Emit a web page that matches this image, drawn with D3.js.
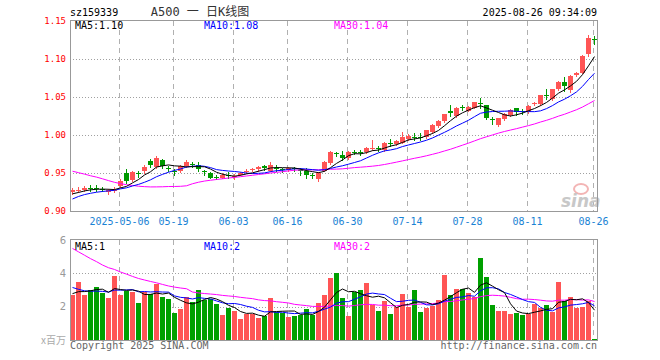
<!DOCTYPE html>
<html><head><meta charset="utf-8">
<script src="https://cdn.jsdelivr.net/npm/d3@7"></script>
<style>body{margin:0;background:#fff}svg{display:block}</style>
</head><body>
<svg id="c" width="660" height="360"></svg>
<script>
// ---------- data ----------
const symbol = "sz159339";
const title = "A500 一 日K线图";
const stamp = "2025-08-26 09:34:09";
const dates = [
"04-21","04-22","04-23","04-24","04-25","04-28","04-29","04-30",
"05-06","05-07","05-08","05-09","05-12","05-13","05-14","05-15","05-16","05-19","05-20","05-21","05-22","05-23","05-26","05-27","05-28","05-29","05-30",
"06-03","06-04","06-05","06-06","06-09","06-10","06-11","06-12","06-13","06-16","06-17","06-18","06-19","06-20","06-23","06-24","06-25","06-26","06-27","06-30",
"07-01","07-02","07-03","07-04","07-07","07-08","07-09","07-10","07-11","07-14","07-15","07-16","07-17","07-18","07-21","07-22","07-23","07-24","07-25","07-28","07-29","07-30","07-31",
"08-01","08-04","08-05","08-06","08-07","08-08","08-11","08-12","08-13","08-14","08-15","08-18","08-19","08-20","08-21","08-22","08-25","08-26"];
const open = [0.925,0.927,0.928,0.930,0.930,0.929,0.925,0.927,0.933,0.950,0.941,0.950,0.952,0.966,0.958,0.967,0.956,0.953,0.952,0.959,
0.962,0.961,0.952,0.950,0.945,0.944,0.948,0.945,0.948,0.952,0.954,0.955,0.959,0.953,0.957,0.955,0.954,0.956,0.954,0.953,
0.948,0.942,0.953,0.963,0.976,0.974,0.970,0.978,0.977,0.977,0.982,0.983,0.980,0.990,0.988,0.990,0.995,0.998,0.997,0.997,
1.004,1.012,1.018,1.031,1.025,1.037,1.032,1.036,1.042,1.039,1.021,1.013,1.021,1.026,1.035,1.032,1.030,1.041,1.041,1.052,
1.047,1.060,1.070,1.059,1.079,1.082,1.107,1.126];
const high = [0.930,0.931,0.933,0.934,0.934,0.932,0.929,0.931,0.942,0.955,0.953,0.953,0.960,0.969,0.973,0.969,0.959,0.955,0.961,0.967,
0.965,0.965,0.954,0.951,0.947,0.950,0.951,0.949,0.951,0.955,0.957,0.959,0.961,0.965,0.960,0.957,0.958,0.958,0.956,0.956,
0.950,0.951,0.966,0.979,0.978,0.979,0.979,0.980,0.980,0.984,0.993,0.985,0.991,0.995,0.993,1.004,1.001,1.003,1.002,1.007,
1.014,1.020,1.028,1.039,1.037,1.039,1.038,1.044,1.049,1.040,1.024,1.023,1.029,1.034,1.036,1.034,1.039,1.044,1.053,1.060,
1.061,1.071,1.076,1.079,1.083,1.105,1.131,1.130];
const low = [0.923,0.925,0.926,0.926,0.926,0.926,0.923,0.925,0.931,0.937,0.939,0.945,0.950,0.958,0.956,0.957,0.952,0.948,0.951,0.958,
0.958,0.953,0.947,0.943,0.942,0.943,0.944,0.942,0.947,0.950,0.952,0.953,0.954,0.952,0.953,0.951,0.952,0.953,0.948,0.943,
0.944,0.940,0.952,0.962,0.972,0.967,0.969,0.975,0.974,0.976,0.980,0.979,0.979,0.986,0.987,0.989,0.994,0.993,0.994,0.996,
1.003,1.011,1.017,1.025,1.024,1.033,1.031,1.035,1.036,1.021,1.014,1.012,1.020,1.025,1.026,1.027,1.029,1.039,1.040,1.047,
1.046,1.059,1.058,1.057,1.078,1.081,1.104,1.120];
const close = [0.927,0.928,0.930,0.929,0.929,0.928,0.927,0.928,0.940,0.939,0.951,0.949,0.958,0.961,0.970,0.959,0.955,0.952,0.959,0.965,
0.961,0.955,0.951,0.944,0.944,0.948,0.947,0.946,0.950,0.953,0.955,0.958,0.956,0.961,0.956,0.954,0.957,0.955,0.953,0.947,
0.947,0.950,0.964,0.977,0.975,0.970,0.978,0.977,0.976,0.983,0.983,0.982,0.990,0.989,0.992,0.998,0.999,0.996,0.996,1.006,
1.013,1.019,1.027,1.029,1.036,1.035,1.037,1.043,1.041,1.022,1.020,1.022,1.028,1.033,1.030,1.031,1.038,1.042,1.052,1.051,
1.060,1.070,1.064,1.078,1.081,1.104,1.128,1.125];
const volume = [2.71,3.49,2.73,3.02,3.20,2.80,2.55,3.86,2.73,2.96,2.90,2.20,2.86,2.76,3.37,2.60,2.49,1.60,1.86,2.60,
2.27,3.02,2.41,2.45,2.14,1.49,1.92,1.75,1.25,1.57,1.57,1.31,1.43,2.55,1.69,1.65,1.37,1.43,1.53,1.84,
1.49,2.25,2.73,3.75,4.02,2.55,1.43,2.86,3.02,3.43,2.10,1.73,2.37,1.55,1.98,2.78,1.98,3.02,1.67,1.92,
2.04,2.43,3.90,2.73,3.08,3.08,2.80,2.60,4.90,3.78,2.08,1.73,1.73,1.55,1.60,1.49,1.55,2.14,1.94,2.08,
1.67,3.49,2.37,2.60,1.94,1.96,2.37,0.08];
// estimated closes / volumes of the 29 sessions before the window (feed the moving averages)
const priorClose = [0.985,0.988,0.992,0.983,0.995,0.998,0.996,0.990,0.985,0.978,0.980,
0.975,0.972,0.968,0.955,0.945,0.950,0.952,
0.945,0.880,0.895,0.905,0.912,0.915,0.918,0.919,0.920,0.922,0.925];
const priorVol = [9.6,8.8,9.2,8.6,8.9,7.4,7.0,7.3,6.8,7.0,5.9,5.6,5.4,5.8,5.5,5.3,
3.6,3.5,3.9,8.2,4.6,3.6,3.3,3.1,3.0,2.9,2.7,2.8,2.8];
const priceTicks = [1.15,1.10,1.05,1.00,0.95,0.90];
const volTicks = [6,4,2];
const tickDates = ["05-06","05-19","06-03","06-16","06-30","07-14","07-28","08-11","08-26"];
const tickLabels = ["2025-05-06","05-19","06-03","06-16","06-30","07-14","07-28","08-11","08-26"];
const maPeriods = [5,10,30];
const maColors = ["#000000","#0000ff","#ff00ff"];

// ---------- layout ----------
const L = 70, R = 597;
const PT = 21, PB = 211, VT = 240, VB = 340;
const RED = "#ff5555", GREEN = "#009900", VGREEN = "#00a000";
const MONO = "'DejaVu Sans Mono', 'Liberation Mono', monospace";
const svg = d3.select("#c");
svg.append("rect").attr("width",660).attr("height",360).attr("fill","#fff");

const x = d3.scaleBand().domain(dates).range([L, L + dates.length*6 - 1])
  .paddingInner(1/6).paddingOuter(0).align(0);
const bw = x.bandwidth();
const bx = d => Math.round(x(d));
const yP = d3.scaleLinear().domain([0.90,1.15]).range([PB,PT]);
const yV = d3.scaleLinear().domain([0,6]).range([VB,VT]);

function movingAvg(prior, vals, n){
  const all = prior.concat(vals), off = prior.length;
  return vals.map((_,i)=> d3.mean(all.slice(off+i-n+1, off+i+1)));
}
const trunc = (v,d)=> (Math.floor(v*Math.pow(10,d)+1e-9)/Math.pow(10,d)).toFixed(d);

// ---------- grids ----------
const grid = svg.append("g");
[[PT,PB],[VT,VB]].forEach(([t,b])=>{
  tickDates.forEach(td=>{
    const gx = bx(td)+1.5;
    grid.append("line").attr("x1",gx).attr("x2",gx).attr("y1",t).attr("y2",b)
      .attr("stroke","#b0b0b0").attr("stroke-dasharray","5,4");
  });
});
priceTicks.slice(1,-1).forEach(v=>{
  const gy = Math.round(yP(v))+0.5;
  grid.append("line").attr("x1",L).attr("x2",R).attr("y1",gy).attr("y2",gy)
    .attr("stroke","#a0a0a0").attr("stroke-dasharray","1,2");
});
volTicks.slice(1).forEach(v=>{
  const gy = Math.round(yV(v))+0.5;
  grid.append("line").attr("x1",L).attr("x2",R).attr("y1",gy).attr("y2",gy)
    .attr("stroke","#a0a0a0").attr("stroke-dasharray","1,2");
});

// ---------- watermark ----------
const wm = svg.append("g");
wm.append("ellipse").attr("cx",581).attr("cy",189).attr("rx",7).attr("ry",5)
  .attr("fill","none").attr("stroke","#f3b5b5").attr("stroke-width",2);
wm.append("text").attr("x",561).attr("y",207).text("sina")
  .attr("font-family","'DejaVu Sans', sans-serif").attr("font-size",17).attr("font-weight","bold")
  .attr("font-style","italic").attr("fill","#c8c8c8");

// ---------- candles ----------
const cg = svg.append("g");
dates.forEach((d,i)=>{
  const up = close[i] >= open[i];
  const col = up ? RED : GREEN;
  const cx = bx(d) + 2.5;
  cg.append("line").attr("x1",cx).attr("x2",cx)
    .attr("y1",Math.round(yP(high[i]))).attr("y2",Math.round(yP(low[i]))+1)
    .attr("stroke",col).attr("stroke-width",1);
  const yTop = Math.round(yP(Math.max(open[i],close[i])));
  const yBot = Math.round(yP(Math.min(open[i],close[i])));
  cg.append("rect").attr("x",bx(d)).attr("width",bw)
    .attr("y",yTop).attr("height",Math.max(1,yBot-yTop)).attr("fill",col);
});

// ---------- volume bars ----------
const vg = svg.append("g");
dates.forEach((d,i)=>{
  const up = close[i] >= open[i];
  const yy = yV(volume[i]);
  vg.append("rect").attr("x",bx(d)).attr("width",bw)
    .attr("y",Math.round(yy)).attr("height",Math.max(1,VB-Math.round(yy)))
    .attr("fill", up ? RED : VGREEN);
});

// ---------- moving averages ----------
const priceMA = maPeriods.map(n=>movingAvg(priorClose, close, n));
const volMA = maPeriods.map(n=>movingAvg(priorVol, volume, n));
const lineP = d3.line().x((v,i)=>bx(dates[i])+2.5).y(v=>yP(v));
const lineV = d3.line().x((v,i)=>bx(dates[i])+2.5).y(v=>yV(v));
[2,1,0].forEach(k=>{
  svg.append("path").attr("d",lineP(priceMA[k])).attr("fill","none")
    .attr("stroke",maColors[k]).attr("stroke-width",1);
  svg.append("path").attr("d",lineV(volMA[k])).attr("fill","none")
    .attr("stroke",maColors[k]).attr("stroke-width",1);
});

// ---------- frames ----------
[[PT,PB],[VT,VB]].forEach(([t,b])=>{
  svg.append("rect").attr("x",L+0.5).attr("y",t-0.5).attr("width",R-L).attr("height",b-t+1)
    .attr("fill","none").attr("stroke","#999").attr("stroke-width",1);
});

// ---------- texts ----------
const T = (xx,yy,s,opt={})=> svg.append("text").attr("x",xx).attr("y",yy).text(s)
  .attr("font-family",opt.ff||MONO).attr("font-size",opt.fs||10)
  .attr("fill",opt.fill||"#000").attr("text-anchor",opt.anchor||"start")
  .attr("dominant-baseline",opt.db||"auto");

T(70,16,symbol,{fs:10});
T(200,16,title,{fs:12,anchor:"middle",ff:"'DejaVu Sans Mono','Noto Sans CJK SC',monospace",fill:"#333"});
T(597,16,stamp,{fs:10,anchor:"end"});

priceTicks.forEach(v=>T(66,yP(v),v.toFixed(2),{fs:9,anchor:"end",db:"central",fill:"#ff0000"}));
volTicks.forEach(v=>T(66,yV(v),String(v),{fs:10,anchor:"end",db:"central",fill:"#999",ff:"'DejaVu Sans',sans-serif"}));
T(66,344,"x百万",{fs:10,anchor:"end",fill:"#aaa",ff:"'Noto Sans CJK SC',sans-serif"});

tickDates.forEach((td,k)=>T(bx(td)+1.5,221,tickLabels[k],{fs:10,anchor:"middle",db:"central",fill:"#1a82d4"}));

const last = dates.length-1;
const labX = [75,204,334];
maPeriods.forEach((n,k)=>{
  T(labX[k],29,"MA"+n+":"+trunc(priceMA[k][last],2),{fill:maColors[k]});
  T(labX[k],250,"MA"+n+":"+trunc(volMA[k][last],0),{fill:maColors[k]});
});

T(70,349,"Copyright 2025 SINA.COM",{fill:"#666"});
T(597,349,"http://finance.sina.com.cn",{fill:"#666",anchor:"end"});
</script>
</body></html>
